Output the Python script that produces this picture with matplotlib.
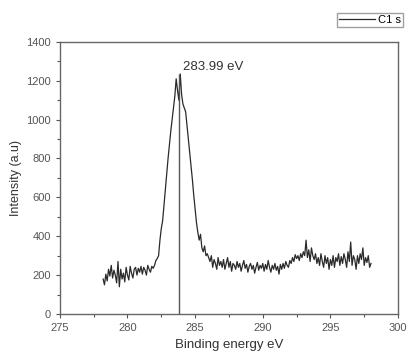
import matplotlib
matplotlib.use("Agg")
import matplotlib.pyplot as plt
import numpy as np
from matplotlib.ticker import MultipleLocator

plt.rcParams["font.family"] = ["Liberation Sans", "DejaVu Sans"]

# binding energy grid 278.2 .. 298.0 eV, 0.1 eV step
energy = np.round(np.arange(278.2, 298.05, 0.1), 2)
intensity = [
    180, 150, 205, 170, 230, 195, 250, 185, 225,
    200, 160, 270, 140, 230, 180, 210, 165, 240, 200,
    175, 245, 210, 185, 230, 240, 200, 235, 215, 245,
    205, 240, 225, 200, 250, 230, 215, 245, 235, 250,
    275, 285, 300, 380, 440, 480, 560, 640, 720, 800,
    870, 940, 1000, 1060, 1120, 1210, 1150, 1100, 1235, 1130,
    1080, 1060, 1040, 970, 900, 830, 760, 690, 610, 540,
    470, 420, 380, 410, 340, 320, 350, 300, 310, 290,
    270, 300, 240, 280, 260, 230, 290, 250, 270, 240,
    280, 230, 260, 290, 240, 270, 220, 260, 250, 230,
    270, 240, 260, 220, 250, 275, 235, 255, 215, 245,
    260, 230, 250, 210, 240, 265, 225, 250, 235, 260,
    220, 255, 230, 275, 240, 215, 250, 230, 260, 225,
    245, 205, 255, 230, 260, 235, 270, 250, 240, 275,
    260, 290, 270, 305, 285, 300, 275, 310, 290, 320,
    300, 380, 290, 330, 270, 340, 300, 280, 310, 260,
    290, 250, 310, 270, 240, 300, 260, 290, 230, 280,
    250, 300, 240, 290, 270, 310, 250, 295, 260, 310,
    280, 240, 320, 270, 370, 250, 300, 280, 230, 300,
    260, 310, 280, 340, 250, 290, 265, 300, 240, 260,
]
peak_pos = 283.84
peak_label = "283.99 eV"

fig = plt.figure(figsize=(4.07, 3.58), dpi=100)
ax = fig.add_axes([0.147, 0.123, 0.831, 0.760])

line, = ax.plot(energy, intensity, color="#2a2a2a", linewidth=0.9, label="C1 s")
ax.vlines(peak_pos, 0, 1235, color="#555555", linewidth=1.0)
ax.text(284.1, 1255, peak_label, fontsize=9.5, color="#333333")

ax.set_xlim(275, 300)
ax.set_ylim(0, 1400)
ax.xaxis.set_major_locator(MultipleLocator(5))
ax.xaxis.set_minor_locator(MultipleLocator(2.5))
ax.yaxis.set_major_locator(MultipleLocator(200))
ax.yaxis.set_minor_locator(MultipleLocator(100))
ax.tick_params(which="both", direction="out", labelsize=8, colors="#555555", width=0.8)
ax.tick_params(which="major", length=3)
ax.tick_params(which="minor", length=2)
for sp in ax.spines.values():
    sp.set_color("#666666")
    sp.set_linewidth(1.0)

ax.set_xlabel("Binding energy eV", fontsize=9.5, color="#333333", labelpad=4)
ax.set_ylabel("Intensity (a.u)", fontsize=9, color="#333333", labelpad=3)

fig.legend(handles=[line], loc="upper right", bbox_to_anchor=(1.003, 0.978),
           fontsize=8, frameon=True, fancybox=False, edgecolor="#888888",
           handlelength=3.2, borderpad=0.15, handletextpad=0.3)

fig.savefig("out.png", dpi=100)
